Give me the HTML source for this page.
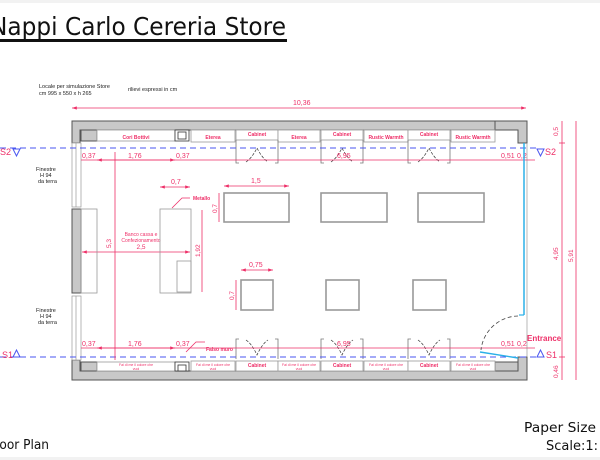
<!DOCTYPE html>
<html><head><meta charset="utf-8"><style>
html,body{margin:0;padding:0;background:#fff;width:600px;height:460px;overflow:hidden}
svg{display:block}
.r{fill:#ee2f68;font-family:"Liberation Sans",sans-serif}
.k{font-family:"Liberation Sans",sans-serif;fill:#222}
</style></head><body>
<svg width="600" height="460" viewBox="0 0 600 460" xmlns="http://www.w3.org/2000/svg">
<defs>
<marker id="a" markerWidth="6" markerHeight="6" refX="6" refY="3" orient="auto-start-reverse"><path d="M0,1 L6,3 L0,5" fill="#ee2f68"/></marker>
</defs>
<rect x="0" y="0" width="600" height="3" fill="#f2f2f2"/>
<rect x="0" y="457" width="600" height="3" fill="#f2f2f2"/>
<text x="-10" y="35" font-family="'Comic Sans MS','DejaVu Sans',sans-serif" font-size="25" fill="#111" textLength="296" lengthAdjust="spacingAndGlyphs">Nappi Carlo Cereria Store</text>
<rect x="0" y="39" width="287" height="3" fill="#111"/>
<text class="k" x="39" y="88" font-size="5.5">Locale per simulazione Store</text>
<text class="k" x="39" y="95" font-size="5.5">cm 995 x 550 x h 265</text>
<text class="k" x="128" y="91" font-size="5.5">rilievi espressi in cm</text>
<line x1="72" y1="108" x2="526" y2="108" stroke="#ee2f68" stroke-width="0.8" marker-start="url(#a)" marker-end="url(#a)"/>
<text class="r" x="293" y="105" font-size="7">10,36</text>
<g fill="#c8c8c8" stroke="#555" stroke-width="1">
<path d="M72,121 H527 V143 H518 V130 H80 V143 H72 Z"/>
<path d="M72,380 H527 V357 H518 V371 H80 V360 H72 Z"/>
<rect x="72" y="209" width="9" height="84"/>
<rect x="81" y="130" width="16" height="11"/>
<rect x="81" y="362" width="16" height="9"/>
<path d="M495,130 H518 V143 H527 V121 H495 Z" />
<rect x="495" y="362" width="23" height="9"/>
</g>
<g fill="#fff" stroke="#999" stroke-width="0.7">
<rect x="72" y="143" width="9" height="64"/><line x1="76" y1="143" x2="76" y2="207"/>
<rect x="72" y="296" width="9" height="64"/><line x1="76" y1="296" x2="76" y2="360"/>
</g>
<text class="k" x="36" y="171" font-size="5.5">Finestre</text><text class="k" x="40" y="177" font-size="5.5">H 94</text><text class="k" x="38" y="183" font-size="5.5">da terra</text>
<text class="k" x="36" y="312" font-size="5.5">Finestre</text><text class="k" x="40" y="318" font-size="5.5">H 94</text><text class="k" x="38" y="324" font-size="5.5">da terra</text>
<g fill="#fff" stroke="#999" stroke-width="0.8">
<rect x="97" y="130" width="78" height="11"/>
<rect x="175" y="130" width="14" height="11" stroke="#333"/><rect x="178" y="132" width="8" height="7" stroke="#333"/>
<rect x="191" y="130" width="44" height="12"/>
<rect x="236" y="130" width="42" height="10"/>
<rect x="278" y="130" width="42" height="12"/>
<rect x="321" y="130" width="42" height="10"/>
<rect x="364" y="130" width="44" height="12"/>
<rect x="408" y="130" width="42" height="10"/>
<rect x="451" y="130" width="44" height="12"/>
</g>
<g class="r" font-size="5" text-anchor="middle" font-weight="bold">
<text x="136" y="139">Cori Bottivi</text><text x="213" y="139">Eterea</text><text x="257" y="136">Cabinet</text>
<text x="299" y="139">Eterea</text><text x="342" y="136">Cabinet</text><text x="386" y="139">Rustic Warmth</text>
<text x="429" y="136">Cabinet</text><text x="473" y="139">Rustic Warmth</text>
</g>
<g fill="#fff" stroke="#999" stroke-width="0.8">
<rect x="97" y="362" width="78" height="9"/>
<rect x="175" y="362" width="14" height="9" stroke="#333"/><rect x="178" y="365" width="8" height="6" stroke="#333"/>
<rect x="191" y="361" width="44" height="10"/>
<rect x="236" y="361" width="42" height="10"/>
<rect x="278" y="361" width="42" height="10"/>
<rect x="321" y="361" width="42" height="10"/>
<rect x="364" y="361" width="44" height="10"/>
<rect x="408" y="361" width="42" height="10"/>
<rect x="451" y="361" width="44" height="10"/>
</g>
<g class="r" font-size="3.5" text-anchor="middle">
<text x="136" y="366">Fai di me il colore che</text><text x="136" y="370">vuoi</text>
<text x="213" y="366">Fai di me il colore che</text><text x="213" y="370">vuoi</text>
<text x="299" y="366">Fai di me il colore che</text><text x="299" y="370">vuoi</text>
<text x="386" y="366">Fai di me il colore che</text><text x="386" y="370">vuoi</text>
<text x="473" y="366">Fai di me il colore che</text><text x="473" y="370">vuoi</text>
</g>
<g class="r" font-size="5" text-anchor="middle" font-weight="bold"><text x="257" y="367">Cabinet</text><text x="342" y="367">Cabinet</text><text x="429" y="367">Cabinet</text></g>
<g fill="none" stroke="#777" stroke-width="0.8">
<path d="M236,140 V163 H239 M278,140 V163 H275"/><path d="M321,140 V163 H324 M363,140 V163 H360"/><path d="M408,140 V163 H411 M450,140 V163 H447"/>
<path d="M236,359 V339 H239 M278,359 V339 H275"/><path d="M321,359 V339 H324 M363,359 V339 H360"/><path d="M408,359 V339 H411 M450,359 V339 H447"/>
</g>
<g fill="none" stroke="#333" stroke-width="0.7" stroke-dasharray="3,1.5">
<path d="M246,162 Q252,158 257,148 Q262,158 268,162"/><path d="M331,162 Q337,158 342,148 Q347,158 353,162"/><path d="M418,162 Q424,158 429,148 Q434,158 440,162"/>
<path d="M246,340 Q252,344 257,355 Q262,344 268,340"/><path d="M331,340 Q337,344 342,355 Q347,344 353,340"/><path d="M418,340 Q424,344 429,355 Q434,344 440,340"/>
</g>
<line x1="0" y1="148" x2="540" y2="148" stroke="#4a56f0" stroke-width="1" stroke-dasharray="6,4"/>
<line x1="0" y1="357" x2="540" y2="357" stroke="#4a56f0" stroke-width="1" stroke-dasharray="6,4"/>
<path d="M13,149 L20,149 L16.5,156 Z" fill="none" stroke="#4a56f0"/>
<path d="M537,149 L544,149 L540.5,156 Z" fill="none" stroke="#4a56f0"/>
<path d="M13,357 L20,357 L16.5,350 Z" fill="none" stroke="#4a56f0"/>
<path d="M537,357 L544,357 L540.5,350 Z" fill="none" stroke="#4a56f0"/>
<text class="r" x="0" y="155" font-size="9">S2</text><text class="r" x="545" y="155" font-size="9">S2</text>
<text class="r" x="2" y="358" font-size="9">S1</text><text class="r" x="546" y="358" font-size="9">S1</text>
<g stroke="#ee2f68" stroke-width="0.8" fill="none">
<line x1="81" y1="160" x2="535" y2="160"/><line x1="81" y1="348" x2="535" y2="348"/>
<line x1="97" y1="160" x2="175" y2="160" marker-start="url(#a)" marker-end="url(#a)"/>
<line x1="97" y1="348" x2="175" y2="348" marker-start="url(#a)" marker-end="url(#a)"/>
<line x1="115" y1="152" x2="115" y2="360"/>
<line x1="82" y1="252" x2="190" y2="252" marker-start="url(#a)" marker-end="url(#a)"/>
<line x1="202" y1="210" x2="202" y2="292"/>
<line x1="160" y1="187" x2="190" y2="187" marker-start="url(#a)" marker-end="url(#a)"/>
<line x1="224" y1="186" x2="289" y2="186" marker-start="url(#a)" marker-end="url(#a)"/>
<line x1="219" y1="193" x2="219" y2="222"/>
<line x1="241" y1="270" x2="273" y2="270" marker-start="url(#a)" marker-end="url(#a)"/>
<line x1="236" y1="280" x2="236" y2="310"/>
<line x1="562" y1="121" x2="562" y2="380"/><line x1="576" y1="121" x2="576" y2="380"/>
<line x1="559" y1="143" x2="565" y2="143"/><line x1="559" y1="357" x2="565" y2="357"/>
<path d="M172,208 L182,198 H190"/><path d="M186,352 L196,342 H205"/>
</g>
<g class="r" font-size="7">
<text x="82" y="158">0,37</text><text x="128" y="158">1,76</text><text x="176" y="158">0,37</text>
<text x="82" y="346">0,37</text><text x="128" y="346">1,76</text><text x="176" y="346">0,37</text>
<text x="337" y="158">6,95</text><text x="337" y="346">6,95</text>
<text x="501" y="158">0,51</text><text x="517" y="158">0,2</text>
<text x="501" y="346">0,51</text><text x="517" y="346">0,2</text>
<text x="171" y="184">0,7</text><text x="251" y="183">1,5</text><text x="249" y="267">0,75</text>
</g>
<g class="r" font-size="6.5">
<text transform="translate(111,248) rotate(-90)">5,3</text>
<text transform="translate(200,257) rotate(-90)">1,92</text>
<text transform="translate(217,213) rotate(-90)">0,7</text>
<text transform="translate(234,300) rotate(-90)">0,7</text>
<text transform="translate(558,136) rotate(-90)">0,5</text>
<text transform="translate(558,260) rotate(-90)">4,95</text>
<text transform="translate(573,262) rotate(-90)">5,91</text>
<text transform="translate(558,378) rotate(-90)">0,46</text>
</g>
<g class="r" font-size="5" font-weight="bold"><text x="193" y="200">Metallo</text><text x="206" y="351">Falso muro</text></g>
<g class="r" font-size="5" text-anchor="middle"><text x="141" y="236">Banco cassa e</text><text x="141" y="242">Confezionamento</text><text x="141" y="249" font-size="6.5">2,5</text></g>
<g fill="none" stroke="#999" stroke-width="0.8">
<rect x="81" y="209" width="16" height="84"/>
<rect x="160" y="209" width="31" height="84"/>
<rect x="177" y="261" width="14" height="31"/>
</g>
<g fill="none" stroke="#999" stroke-width="1.6">
<rect x="224" y="193" width="65" height="29"/><rect x="321" y="193" width="66" height="29"/><rect x="418" y="193" width="66" height="29"/>
<rect x="241" y="280" width="32" height="30"/><rect x="326" y="280" width="33" height="30"/><rect x="413" y="280" width="33" height="30"/>
</g>
<line x1="524" y1="143" x2="524" y2="315" stroke="#2bb0e8" stroke-width="1.5"/>
<line x1="519" y1="315" x2="524" y2="315" stroke="#2bb0e8" stroke-width="1.2"/>
<line x1="480" y1="352" x2="518" y2="358" stroke="#2bb0e8" stroke-width="1.4"/>
<path d="M518,316 A38,38 0 0 0 481,350" fill="none" stroke="#444" stroke-width="0.8" stroke-dasharray="4,2.5"/>
<line x1="527" y1="143" x2="527" y2="357" stroke="#888" stroke-width="0.6"/>
<text class="r" x="527" y="341" font-size="8" font-weight="bold">Entrance</text>
<text x="-11" y="449" font-family="'DejaVu Sans',sans-serif" font-size="13" fill="#111" textLength="60" lengthAdjust="spacingAndGlyphs">Floor Plan</text>
<text x="524" y="432" font-family="'DejaVu Sans',sans-serif" font-size="13" fill="#111" textLength="72" lengthAdjust="spacingAndGlyphs">Paper Size</text>
<text x="546" y="450" font-family="'DejaVu Sans',sans-serif" font-size="13" fill="#111">Scale:1:</text>
</svg>
</body></html>
